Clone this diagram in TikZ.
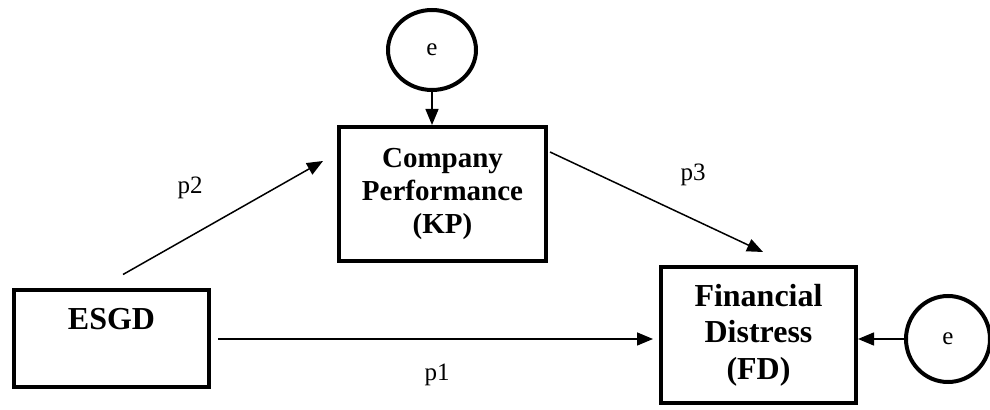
\documentclass[tikz,border=0pt]{standalone}
\usepackage{fontspec}
\setmainfont{Liberation Serif}
\usetikzlibrary{arrows.meta,shapes.geometric}
\begin{document}
\begin{tikzpicture}
[x=0.5pt,y=-0.5pt,
  boxdecorate/.style={draw,line width=2pt,align=center,inner sep=0pt,
    font=\bfseries\fontsize{16}{18.25}\selectfont},
  errdecorate/.style={shape=ellipse,draw,line width=2pt,inner sep=0pt,
    font=\fontsize{12.5}{14}\selectfont},
  arrowdecorate/.style={-{Triangle[length=8pt,width=6.5pt]},line width=0.75pt}]
\useasboundingbox (0,0) rectangle (990,410);
%% variables
\node (esgd) at (111.5,339) [boxdecorate,minimum width=97.5pt,minimum height=48.5pt]
  {ESGD\\[2pt]\mbox{}};
\node (kp) at (442.5,194) [boxdecorate,minimum width=103.5pt,minimum height=67pt,
  font=\bfseries\fontsize{14.5}{16.5}\selectfont] {Company\\Performance\\(KP)};
\node (fd) at (758.5,335) [boxdecorate,minimum width=97.5pt,minimum height=68pt]
  {Financial\\Distress\\(FD)};
%% error terms
\node (etop) at (432,50) [errdecorate,minimum width=44pt,minimum height=40pt] {e};
\node (eright) at (948,339) [errdecorate,minimum width=42pt,minimum height=43pt] {e};
%% paths
\draw[arrowdecorate,shorten <=3.5pt,shorten >=3pt] (esgd.east) -- (esgd.east -| fd.west);
\draw[arrowdecorate] ([shift={(11.5,-14)}]esgd.north) -- ([shift={(-14,-33)}]kp.west);
\draw[arrowdecorate] ([shift={(2,-42)}]kp.east) -- ([shift={(4.5,-13)}]fd.north);
\draw[arrowdecorate] (etop.south) -- (etop.south |- kp.north);
\draw[arrowdecorate] (eright.west) -- (eright.west -| fd.east);
%% coefficients
\foreach \pname/\x/\y in {p1/437/375, p2/190/188, p3/693/175} {
  \node (\pname) at (\x,\y) [font=\fontsize{12.5}{14}\selectfont] {\pname};
}
\end{tikzpicture}
\end{document}
